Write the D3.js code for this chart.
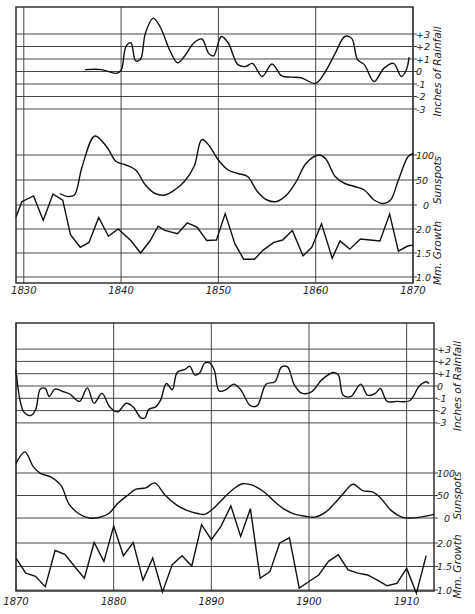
<!DOCTYPE html>
<html>
<head>
<meta charset="UTF-8">
<script src="https://d3js.org/d3.v7.min.js"></script>
<style>
  body { margin: 0; background: #fff; }
  text { font-family: "DejaVu Sans", sans-serif; font-style: italic; fill: #222; }
</style>
</head>
<body>
<svg id="chart" width="475" height="614"></svg>
<script>
// ---- data, panel 1 (1830-1870) ----
const rainYears1 = [1836.3,1838,1839.5,1840,1840.5,1841,1841.5,1842,1842.5,1843.3,1844,1845,1845.8,1846.5,1847.5,1848.3,1849,1849.5,1850.3,1851,1852,1852.8,1853.5,1854.5,1855.5,1856.5,1857.5,1858.5,1860,1861,1862,1863,1863.7,1864.3,1865,1866,1867,1868,1868.8,1869.3,1869.6];
const rainVals1  = [0.15,0.15,-0.15,0.1,2.0,2.3,0.85,1.0,3.07,4.27,3.6,1.7,0.7,1.2,2.3,2.6,1.45,1.25,2.8,2.3,0.55,0.4,0.65,-0.4,0.6,-0.35,-0.45,-0.5,-0.95,0,1.45,2.8,2.65,0.95,0.55,-0.8,0.25,0.65,-0.4,0.1,1.15];
const sunYears1 = [1833.7,1834.5,1835.2,1836,1837.3,1838.5,1839.5,1840.5,1841.5,1842.5,1843.5,1844.5,1845.5,1846.5,1847.5,1848.3,1849,1850,1851,1852,1853,1854,1855,1856,1857,1858,1859,1860.3,1861,1862,1863,1864,1865,1866,1867,1867.7,1868.5,1869.5,1870];
const sunVals1  = [23,17,20,77,138,117,87,80,70,40,23,20,30,47,77,131,120,90,70,63,57,27,10,7,20,47,83,100,93,57,43,37,30,10,3,10,50,97,103];
const growYears1 = [1829.2,1829.8,1831,1832,1833,1834,1834.8,1835.8,1836.7,1837.7,1838.7,1839.7,1841,1842,1843,1843.8,1844.5,1845.8,1846.8,1847.8,1848.8,1849.8,1850.7,1851.7,1852.6,1853.7,1854.6,1855.7,1856.6,1857.6,1858.7,1859.6,1860.6,1861.7,1862.5,1863.5,1864.6,1865.6,1866.6,1867.6,1868.5,1869.4,1870];
const growVals1  = [2.25,2.57,2.69,2.18,2.73,2.6,1.88,1.62,1.72,2.24,1.85,2.0,1.76,1.5,1.76,2.06,1.97,1.9,2.13,2.04,1.76,1.77,2.32,1.69,1.37,1.37,1.56,1.72,1.77,1.97,1.44,1.62,2.11,1.39,1.75,1.58,1.79,1.77,1.75,2.31,1.54,1.64,1.67];

// ---- data, panel 2 (1870-1912) ----
const rainYears2 = [1870,1870.4,1870.8,1871.5,1872,1872.5,1873,1873.4,1874,1874.8,1875.5,1876.5,1877.3,1878,1878.8,1879.6,1880.4,1881.3,1882,1882.8,1883.2,1883.6,1884.3,1884.8,1885.4,1886,1886.5,1887.3,1887.8,1888.3,1888.8,1889.3,1889.8,1890.3,1890.8,1891.5,1892.3,1893,1894,1894.7,1895.6,1896.5,1897.2,1897.8,1898.5,1899.3,1900.3,1901.3,1902.5,1903,1903.5,1904.3,1905.3,1906,1906.8,1907.3,1908,1909,1910.3,1911.3,1912,1912.3];
const rainVals2  = [1.3,-1.1,-2.1,-2.4,-1.95,-0.25,-0.2,-0.85,-0.25,-0.45,-0.65,-1.25,-0.15,-1.4,-0.6,-1.7,-2.1,-1.4,-1.7,-2.6,-2.6,-1.9,-1.7,-1.15,0.2,-0.3,1.1,1.35,1.6,0.9,1.05,1.85,1.9,1.3,-0.4,-0.3,0.15,-0.3,-1.6,-1.6,0.15,0.35,1.55,1.55,0.1,-0.6,-0.45,0.5,1.1,0.9,-0.75,-0.85,0.15,-0.75,-0.6,-0.2,-1.25,-1.25,-1.2,0,0.35,0.2];
const sunYears2 = [1870,1870.9,1871.8,1872.5,1873.6,1874.6,1875.4,1876.4,1877.5,1878.5,1879.5,1880.4,1881.4,1882.3,1883.3,1884.2,1885.3,1886.5,1887.5,1888.6,1889.3,1890.2,1891.2,1892.3,1893.2,1894.2,1895.5,1896.5,1897.5,1898.6,1899.6,1900.6,1901.7,1902.6,1903.5,1904.5,1905.5,1906.5,1907.4,1908.4,1909.5,1910.4,1911.4,1912.8];
const sunVals2  = [121,147,113,99,91,73,32,10,0,1,10,32,50,64,67,78,50,28,17,10,8,21,43,65,76,73,56,36,19,8,4,2,13,32,54,75,61,58,43,17,2,0,2,8];
const growYears2 = d3.range(1870, 1913);
const growVals2  = [1.68,1.36,1.29,1.07,1.84,1.76,1.5,1.25,2.01,1.61,2.36,1.73,2.01,1.21,1.68,0.96,1.54,1.73,1.51,2.39,2.07,2.36,2.79,2.14,2.73,1.25,1.39,2.0,2.11,1.04,1.18,1.32,1.61,1.75,1.43,1.36,1.32,1.21,1.09,1.14,1.46,0.93,1.73];

const rainTicks = [3,2,1,0,-1,-2,-3];
const rainLabels = ["+3","+2","+1","0","-1","-2","-3"];
const sunTicks = [100,50,0];
const growTicks = [2.0,1.5,1.0];

const svg = d3.select('#chart');

const panels = [
  { x0: 16, x1: 413, top: 7, bottom: 283, years: [1829.2, 1870], grid: [1830,1840,1850,1860,1870],
    rain: [71.5, 12.5], sun: [205, 155], grow: [229, 277],
    rY: rainYears1, rV: rainVals1, sY: sunYears1, sV: sunVals1, gY: growYears1, gV: growVals1, labelY: 294, titleX: 441 },
  { x0: 16, x1: 434, top: 323, bottom: 591, years: [1870, 1912.8], grid: [1870,1880,1890,1900,1910],
    rain: [386, 12.3], sun: [518, 473], grow: [543, 590],
    rY: rainYears2, rV: rainVals2, sY: sunYears2, sV: sunVals2, gY: growYears2, gV: growVals2, labelY: 605, titleX: 461 }
];

panels.forEach(p => {
  const g = svg.append('g');
  const x = d3.scaleLinear().domain(p.years).range([p.x0, p.x1]);
  const yR = d3.scaleLinear().domain([0, 1]).range([p.rain[0], p.rain[0] - p.rain[1]]);
  const yS = d3.scaleLinear().domain([0, 100]).range(p.sun);
  const yG = d3.scaleLinear().domain([2.0, 1.0]).range(p.grow);

  // frame
  g.append('rect').attr('x', p.x0).attr('y', p.top)
    .attr('width', p.x1 - p.x0).attr('height', p.bottom - p.top)
    .attr('fill', 'none').attr('stroke', '#222').attr('stroke-width', 1.4);

  // vertical grid
  p.grid.forEach(yr => {
    g.append('line').attr('x1', x(yr)).attr('x2', x(yr)).attr('y1', p.top).attr('y2', p.bottom)
      .attr('stroke', '#333').attr('stroke-width', 0.9);
    g.append('text').attr('x', x(yr)).attr('y', p.labelY).attr('text-anchor', 'middle')
      .attr('font-size', 10).text(yr);
  });

  const hline = (yy, lbl, lx) => {
    g.append('line').attr('x1', p.x0).attr('x2', p.x1 + 4).attr('y1', yy).attr('y2', yy)
      .attr('stroke', '#333').attr('stroke-width', 0.9);
    g.append('text').attr('x', lx).attr('y', yy + 3.5).attr('font-size', 9.5).text(lbl);
  };
  rainTicks.forEach((v, i) => hline(yR(v), rainLabels[i], p.x1 + 3));
  sunTicks.forEach(v => hline(yS(v), v, p.x1 + (v === 0 ? 10 : 3)));
  growTicks.forEach(v => hline(yG(v), v.toFixed(1), p.x1 + 3));

  // axis titles
  const title = (cy, txt) => g.append('text')
    .attr('transform', `translate(${p.titleX},${cy}) rotate(-90)`)
    .attr('text-anchor', 'middle').attr('font-size', 10.5).text(txt);
  title(yR(0), 'Inches of Rainfall');
  title(yS(50), 'Sunspots');
  title(yG(1.5), 'Mm. Growth');

  const draw = (ys, vs, yScale, curve) => g.append('path')
    .datum(ys.map((d, i) => [d, vs[i]]))
    .attr('d', d3.line().x(d => x(d[0])).y(d => yScale(d[1])).curve(curve))
    .attr('fill', 'none').attr('stroke', '#111').attr('stroke-width', 1.4);

  draw(p.rY, p.rV, yR, d3.curveCatmullRom);
  draw(p.sY, p.sV, yS, d3.curveCatmullRom);
  draw(p.gY, p.gV, yG, d3.curveLinear);
});
</script>
</body>
</html>
